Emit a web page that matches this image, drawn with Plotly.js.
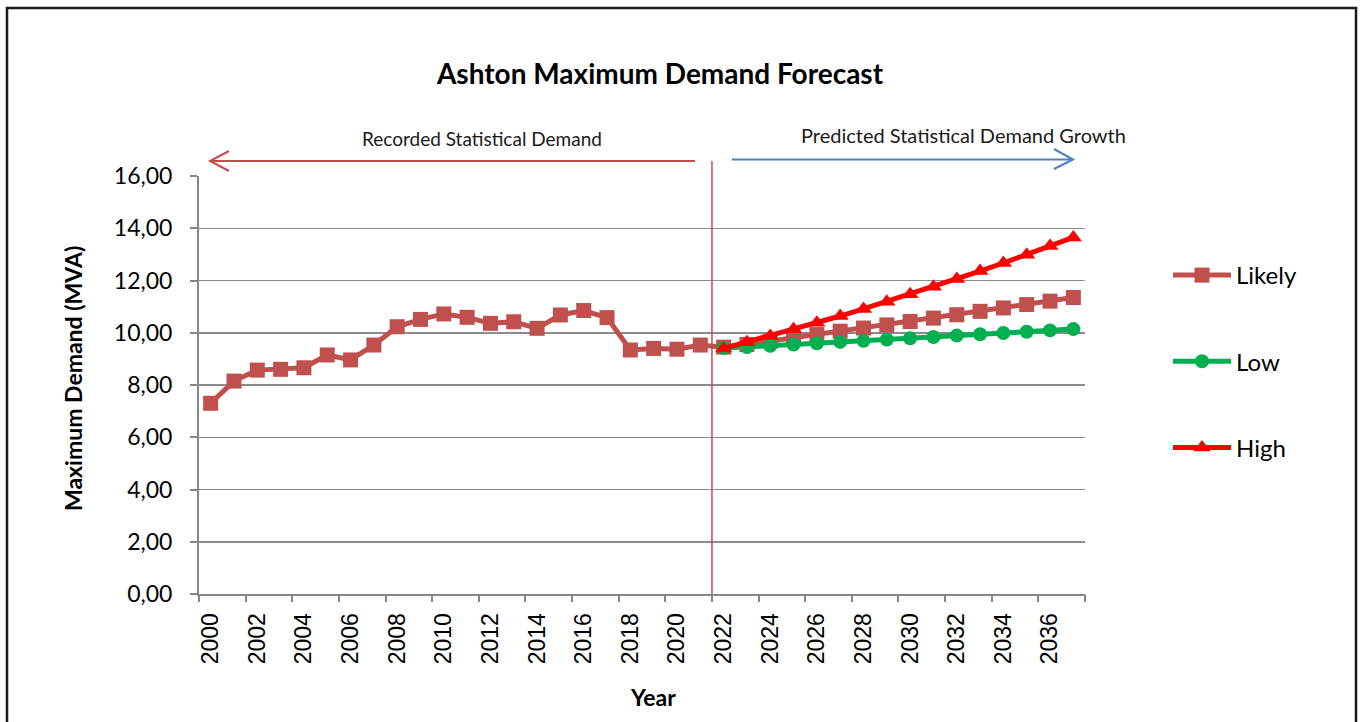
<!DOCTYPE html>
<html>
<head>
<meta charset="utf-8">
<script src="https://cdn.plot.ly/plotly-3.0.1.min.js"></script>
<style>html,body{margin:0;padding:0;background:#fff;}#chart{width:1363px;height:722px;}</style>
</head>
<body>
<div id="chart"></div>
<script>
// ---- data ----
const likelyYears = [2000,2001,2002,2003,2004,2005,2006,2007,2008,2009,2010,2011,2012,2013,2014,2015,2016,2017,2018,2019,2020,2021,2022,2023,2024,2025,2026,2027,2028,2029,2030,2031,2032,2033,2034,2035,2036,2037];
const likelyValues = [7.30,8.15,8.57,8.60,8.66,9.15,8.96,9.53,10.23,10.51,10.72,10.59,10.36,10.42,10.17,10.68,10.85,10.58,9.34,9.40,9.37,9.53,9.45,9.55,9.68,9.80,9.93,10.06,10.18,10.30,10.43,10.56,10.69,10.82,10.95,11.08,11.21,11.35];
const forecastYears = [2022,2023,2024,2025,2026,2027,2028,2029,2030,2031,2032,2033,2034,2035,2036,2037];
const lowValues = [9.42,9.45,9.50,9.55,9.60,9.65,9.69,9.74,9.79,9.84,9.89,9.94,9.99,10.04,10.09,10.14];
const highValues = [9.40,9.64,9.88,10.13,10.38,10.64,10.91,11.19,11.47,11.76,12.06,12.36,12.67,12.99,13.32,13.65];
const xTickVals = [2000,2002,2004,2006,2008,2010,2012,2014,2016,2018,2020,2022,2024,2026,2028,2030,2032,2034,2036];
const xTickText = ["2000","2002","2004","2006","2008","2010","2012","2014","2016","2018","2020","2022","2024","2026","2028","2030","2032","2034","2036"];
const xBoundaryTicks = [1999.5,2001.5,2003.5,2005.5,2007.5,2009.5,2011.5,2013.5,2015.5,2017.5,2019.5,2021.5,2023.5,2025.5,2027.5,2029.5,2031.5,2033.5,2035.5,2037.5];
const yTickVals = [0,2,4,6,8,10,12,14,16];
const yTickText = ["0,00","2,00","4,00","6,00","8,00","10,00","12,00","14,00","16,00"];
const seriesNames = ["Likely","Low","High"];
const dividerYear = 2021.5;

// ---- layout helpers (pixel -> paper) ----
const L = 199, R = 1085, T = 176, B = 594;
const px = x => (x - L) / (R - L);
const py = y => (B - y) / (B - T);

const cal = "Lato, 'Open Sans', sans-serif";

const traces = [
  {x: likelyYears, y: likelyValues, name: seriesNames[0], mode: 'lines+markers', legendgroup: 'a',
   line: {color: '#C0504D', width: 5}, marker: {symbol: 'square', size: 15, color: '#C0504D'}},
  {x: forecastYears, y: lowValues, name: seriesNames[1], mode: 'lines+markers', legendgroup: 'b',
   line: {color: '#00B050', width: 5}, marker: {symbol: 'circle', size: 14, color: '#00B050'}},
  {x: forecastYears, y: highValues, name: seriesNames[2], mode: 'lines+markers', legendgroup: 'c',
   line: {color: '#FF0000', width: 5}, marker: {symbol: 'triangle-up', size: 15, color: '#FF0000'}},
  {x: [xBoundaryTicks[0]], y: [null], xaxis: 'x2', showlegend: false, hoverinfo: 'skip', mode: 'markers'}
];

const shapes = [
  // outer chart frame
  {type: 'rect', xref: 'paper', yref: 'paper', x0: px(7), x1: px(1356), y0: py(740), y1: py(8),
   line: {color: '#1a1a1a', width: 2.5}, fillcolor: 'rgba(0,0,0,0)'},
  // divider between recorded and predicted
  {type: 'line', xref: 'x', yref: 'paper', x0: dividerYear, x1: dividerYear, y0: 0, y1: py(161),
   line: {color: '#C0504D', width: 1.5}},
  // recorded arrow
  {type: 'line', xref: 'paper', yref: 'paper', x0: px(695), x1: px(210), y0: py(161), y1: py(161),
   line: {color: '#C0504D', width: 2}},
  {type: 'path', xref: 'paper', yref: 'paper',
   path: `M ${px(229)} ${py(151)} L ${px(210)} ${py(161)} L ${px(229)} ${py(171)}`,
   line: {color: '#C0504D', width: 2}},
  // predicted arrow
  {type: 'line', xref: 'paper', yref: 'paper', x0: px(732), x1: px(1073), y0: py(159.5), y1: py(159.5),
   line: {color: '#4F81BD', width: 2}},
  {type: 'path', xref: 'paper', yref: 'paper',
   path: `M ${px(1054)} ${py(149)} L ${px(1073)} ${py(159.5)} L ${px(1054)} ${py(169)}`,
   line: {color: '#4F81BD', width: 2}}
];

const ann = (text, x, y, size, extra) => Object.assign({
  text: text, xref: 'paper', yref: 'paper', x: px(x), y: py(y), xanchor: 'center', yanchor: 'middle',
  showarrow: false, font: {family: cal, size: size, color: '#1a1a1a'}}, extra || {});

const annotations = [
  ann('Recorded Statistical Demand', 482, 139, 19),
  ann('Predicted Statistical Demand Growth', 963, 135, 20),
  ann('<b>Year</b>', 653, 697, 23, {font: {family: cal, size: 23, color: '#000'}}),
  ann('<b>Maximum Demand (MVA)</b>', 73, 379, 23, {textangle: -90, font: {family: cal, size: 23, color: '#000'}})
];

const layout = {
  width: 1363, height: 722,
  margin: {l: L, r: 1363 - R, t: T, b: 722 - B, pad: 0},
  paper_bgcolor: '#fff', plot_bgcolor: '#fff',
  showlegend: true,
  title: {text: '<b>Ashton Maximum Demand Forecast</b>', xref: 'container', yref: 'container',
          x: 660 / 1363, y: 1 - 74 / 722, xanchor: 'center', yanchor: 'middle',
          font: {family: cal, size: 28, color: '#000'}},
  xaxis: {range: [1999.5, 2037.5], tickvals: xTickVals, ticktext: xTickText, tickangle: -90,
          ticks: '', showgrid: false, zeroline: false, showline: true, linecolor: '#868686', linewidth: 2,
          ticklabelstandoff: 8,
          tickfont: {family: "'Liberation Sans', Arial, sans-serif", size: 23, color: '#000'}},
  xaxis2: {overlaying: 'x', matches: 'x', range: [1999.5, 2037.5], tickvals: xBoundaryTicks,
           ticks: 'outside', ticklen: 7, tickwidth: 2, tickcolor: '#868686', showticklabels: false,
           showgrid: false, zeroline: false, side: 'bottom'},
  yaxis: {range: [0, 16], tickvals: yTickVals, ticktext: yTickText, ticks: 'outside', ticklen: 7,
          tickwidth: 2, tickcolor: '#868686', showline: true, linecolor: '#868686', linewidth: 2,
          gridcolor: '#8c8c8c', gridwidth: 1.5, zeroline: false, ticklabelstandoff: 13,
          tickfont: {family: cal, size: 23, color: '#000'}},
  legend: {x: px(1168), y: py(253), xanchor: 'left', yanchor: 'top', tracegroupgap: 52, itemwidth: 58,
           bgcolor: 'rgba(0,0,0,0)', font: {family: cal, size: 24, color: '#000'}},
  shapes: shapes,
  annotations: annotations
};

Plotly.newPlot('chart', traces, layout, {staticPlot: true, displayModeBar: false});
</script>
</body>
</html>
